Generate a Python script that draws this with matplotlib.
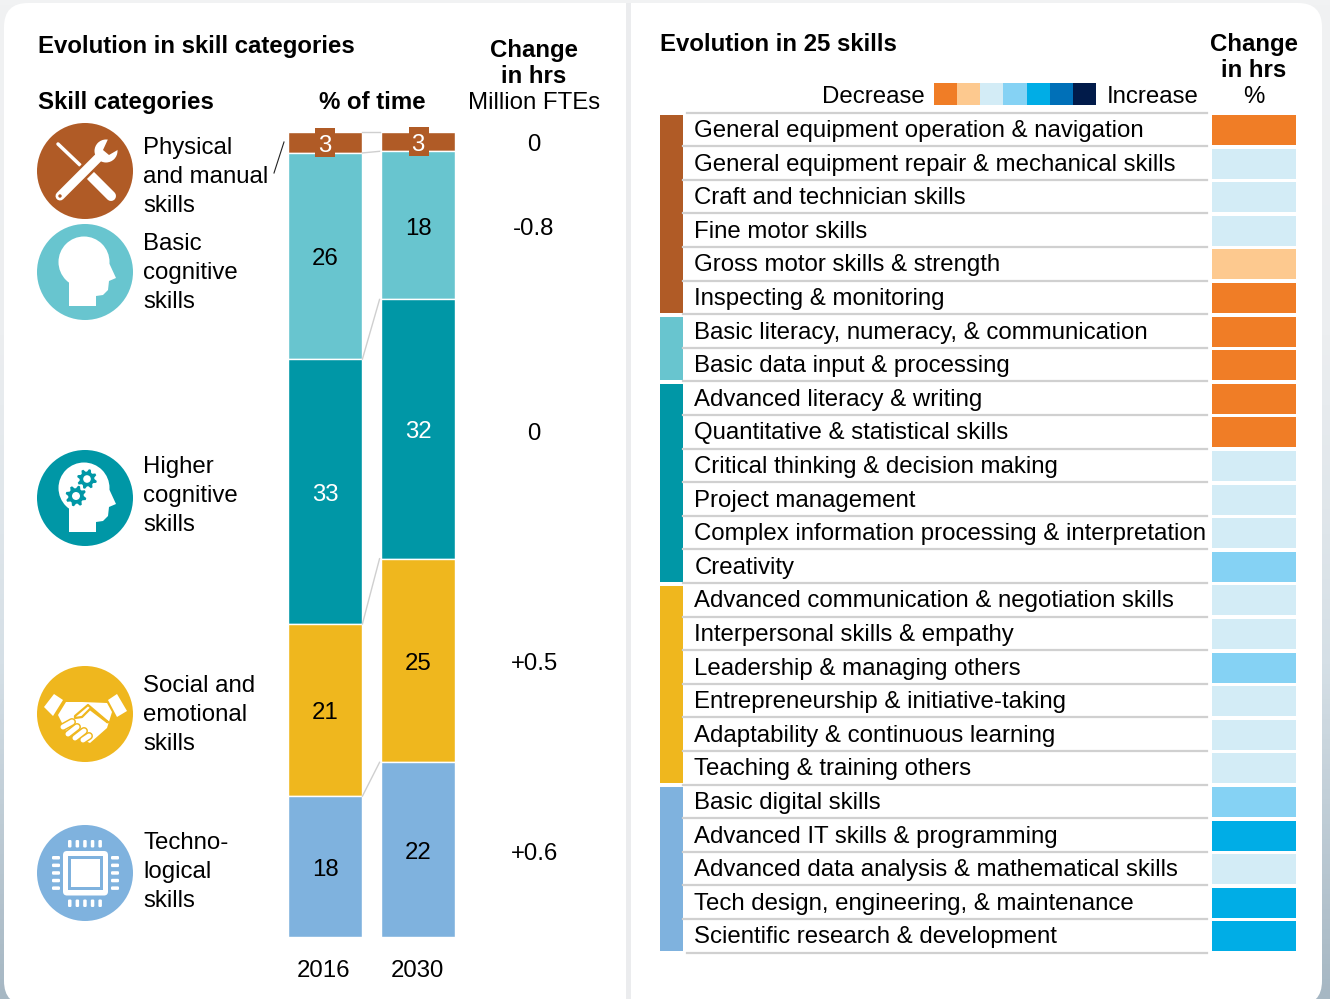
import matplotlib
matplotlib.use('Agg')
import matplotlib.pyplot as plt
import numpy as np
from matplotlib.colors import LinearSegmentedColormap
from matplotlib.patches import Circle, FancyBboxPatch, Polygon, Rectangle

plt.rcParams['font.family'] = ['Liberation Sans', 'DejaVu Sans']

W, H = 1330, 999

# left panel data
years = ['2016', '2030']
share_2016 = [2.6, 25.6, 32.9, 21.4, 17.5]
share_2030 = [2.4, 18.4, 32.2, 25.3, 21.7]
labels_2016 = ['3', '26', '33', '21', '18']
labels_2030 = ['3', '18', '32', '25', '22']
change_hours = ['0', '-0.8', '0', '+0.5', '+0.6']
categories = ['Physical\nand manual\nskills', 'Basic\ncognitive\nskills', 'Higher\ncognitive\nskills',
              'Social and\nemotional\nskills', 'Techno-\nlogical\nskills']
cat_colors = ['#b05b26', '#68c5cf', '#0097a6', '#efb71e', '#7fb2de']
label_colors = ['white', 'black', 'white', 'black', 'black']

# right panel data
skills = ['General equipment operation & navigation', 'General equipment repair & mechanical skills',
          'Craft and technician skills', 'Fine motor skills', 'Gross motor skills & strength',
          'Inspecting & monitoring', 'Basic literacy, numeracy, & communication',
          'Basic data input & processing', 'Advanced literacy & writing', 'Quantitative & statistical skills',
          'Critical thinking & decision making', 'Project management',
          'Complex information processing & interpretation', 'Creativity',
          'Advanced communication & negotiation skills', 'Interpersonal skills & empathy',
          'Leadership & managing others', 'Entrepreneurship & initiative-taking',
          'Adaptability & continuous learning', 'Teaching & training others', 'Basic digital skills',
          'Advanced IT skills & programming', 'Advanced data analysis & mathematical skills',
          'Tech design, engineering, & maintenance', 'Scientific research & development']
skill_levels = [0, 2, 2, 2, 1, 0, 0, 0, 0, 0, 2, 2, 2, 3, 2, 2, 3, 2, 2, 2, 3, 4, 2, 4, 4]
group_sizes = [6, 2, 6, 6, 5]
level_colors = ['#f07d26', '#fdc98f', '#d3ecf6', '#85d2f4', '#00ade6', '#0070b8', '#011b4a']

fig = plt.figure(figsize=(W / 100, H / 100), dpi=100)

# full figure axes in pixel units for background, icons and text
ax = fig.add_axes([0, 0, 1, 1])
grad = LinearSegmentedColormap.from_list('bg', ['#f1f2f3', '#eceef0', '#d5dfe6', '#a6b7c3'])
ax.imshow(np.linspace(0, 1, 200).reshape(-1, 1), cmap=grad, extent=(0, W, H, 0), aspect='auto', zorder=0)
ax.set_xlim(0, W)
ax.set_ylim(H, 0)
ax.axis('off')
ax.add_patch(FancyBboxPatch((4, 3), 1318, 1002, boxstyle='round,pad=0,rounding_size=24',
                            fc='white', ec='none', zorder=1))
ax.add_patch(Rectangle((626, 3), 5, 996, fc='#ebecee', ec='none', zorder=2))

FS = 17.3
BASE = 7.6  # baseline sits this many px under the line centre


def txt(x, y, s, ha='left', bold=False, color='black', size=FS):
    ax.text(x, y + BASE, s, ha=ha, va='baseline', color=color, fontsize=size,
            fontweight='bold' if bold else 'normal', zorder=5)


txt(38, 45.5, 'Evolution in skill categories', bold=True)
txt(38, 101, 'Skill categories', bold=True)
txt(372, 101, '% of time', ha='center', bold=True)
txt(534, 49, 'Change', ha='center', bold=True)
txt(534, 75, 'in hrs', ha='center', bold=True)
txt(534, 101, 'Million FTEs', ha='center')
txt(660, 43, 'Evolution in 25 skills', bold=True)
txt(1254, 43, 'Change', ha='center', bold=True)
txt(1254, 69, 'in hrs', ha='center', bold=True)
txt(1254, 95, '%', ha='center')
txt(925, 95, 'Decrease', ha='right')
txt(1107, 95, 'Increase')

# category labels and change values
label_y = [175, 271.5, 494, 713, 870]
change_y = [143, 227, 432, 662, 852]
for name, y in zip(categories, label_y):
    for k, line in enumerate(name.split('\n')):
        txt(143, y + (k - 1) * 29, line)
for val, y in zip(change_hours, change_y):
    txt(534, y, val, ha='center')
ax.plot([284, 274], [142, 173], color='#222222', lw=0.8, zorder=5)

# legend scale
for i, c in enumerate(level_colors):
    ax.add_patch(Rectangle((934 + i * 23.14, 83), 23.14, 22, fc=c, ec='none', zorder=3))


# icons
def capsule(p0, p1, width, color, z=4):
    ax.plot([p0[0], p1[0]], [p0[1], p1[1]], color=color, lw=width * 0.72, solid_capstyle='round', zorder=z)


def head(cy, color='white'):
    d = cy - 272
    ax.add_patch(Circle((84, 262 + d), 25.5, fc=color, ec='none', zorder=4))
    pts = [(69, 280), (69, 306), (96, 306), (96, 296), (103, 295), (108, 290), (109, 281), (116, 278),
           (110, 265), (100, 250), (70, 270)]
    ax.add_patch(Polygon([(x, y + d) for x, y in pts], closed=True, fc=color, ec='none', zorder=4))


def gear(cx, cy, r, color):
    ang = np.linspace(0, 2 * np.pi, 33)[:-1]
    rad = np.where((np.arange(32) % 4) < 2, r, r * 0.74)
    ax.add_patch(Polygon(np.c_[cx + rad * np.cos(ang + 0.2), cy + rad * np.sin(ang + 0.2)], closed=True,
                         fc=color, ec='none', zorder=5))
    ax.add_patch(Circle((cx, cy), r * 0.38, fc='white', ec='none', zorder=6))


for cy, c in zip([171, 272, 498, 714, 873], cat_colors):
    ax.add_patch(Circle((85, cy), 48, fc=c, ec='none', zorder=3))

# tools
capsule((58, 144), (80, 165), 3.5, 'white')
capsule((91, 176), (111, 196), 10, 'white')
capsule((60, 196), (103, 153), 14, cat_colors[0])
capsule((60, 196), (103, 153), 9, 'white')
ax.add_patch(Circle((106, 151), 11.5, fc='white', ec='none', zorder=4))
ax.add_patch(Polygon([(103, 150), (109, 137), (121, 148), (109, 155)], closed=True, fc=cat_colors[0], ec='none',
                     zorder=4))
ax.add_patch(Circle((60, 196), 1.7, fc=cat_colors[0], ec='none', zorder=5))

# heads
head(272)
head(498)
gear(87, 479, 10, cat_colors[2])
gear(76, 496, 10.5, cat_colors[2])

# handshake
yellow = cat_colors[3]
ax.add_patch(Polygon([(44, 707), (54, 694), (63, 700), (53, 716)], closed=True, fc='white', ec='none', zorder=4))
ax.add_patch(Polygon([(108, 700), (117, 694), (127, 711), (117, 717)], closed=True, fc='white', ec='none', zorder=4))
ax.add_patch(Polygon([(58, 715), (66, 702), (82, 702), (107, 703), (112, 712), (107, 728), (90, 743), (67, 733)],
                     closed=True, fc='white', ec='none', zorder=4))
ax.plot([108, 88, 75, 75, 82, 90, 107], [722, 705, 716, 718, 717, 709, 722], color=yellow, lw=1.6, zorder=5)
for f0, f1 in [((63, 727), (72, 722)), ((68, 734), (77, 727)), ((75, 738), (84, 731)), ((83, 740), (89, 736))]:
    capsule(f0, f1, 8, yellow, z=5)
    capsule(f0, f1, 5, 'white', z=6)

# chip
for k in range(5):
    off = 856 + k * 7.6
    xoff = 68 + k * 7.6
    ax.add_patch(FancyBboxPatch((xoff, 840), 3.5, 7.5, boxstyle='round,pad=0,rounding_size=1.2', fc='white',
                                ec='none', zorder=4))
    ax.add_patch(FancyBboxPatch((xoff, 899.5), 3.5, 7.5, boxstyle='round,pad=0,rounding_size=1.2', fc='white',
                                ec='none', zorder=4))
    ax.add_patch(FancyBboxPatch((52, off), 8, 3.5, boxstyle='round,pad=0,rounding_size=1.2', fc='white',
                                ec='none', zorder=4))
    ax.add_patch(FancyBboxPatch((111, off), 8, 3.5, boxstyle='round,pad=0,rounding_size=1.2', fc='white',
                                ec='none', zorder=4))
ax.add_patch(FancyBboxPatch((63, 851), 45, 44.5, boxstyle='round,pad=0,rounding_size=4', fc='white', ec='none',
                            zorder=4))
ax.add_patch(Rectangle((68, 856), 35, 34, fc=cat_colors[4], ec='none', zorder=5))
ax.add_patch(Rectangle((71, 859), 29, 28, fc='white', ec='none', zorder=6))

# stacked bars, y axis is share of time
ax_bars = fig.add_axes([287.5 / W, (H - 937) / H, 167 / W, 805 / H])
ax_bars.patch.set_alpha(0)
ax_bars.axis('off')
bar_w = 74 / 93
ax_bars.set_xlim(-bar_w / 2, 1 + bar_w / 2)
ax_bars.set_ylim(100, 0)
series = [share_2016, share_2030]
series_labels = [labels_2016, labels_2030]
tops = []
for i, (vals, labs) in enumerate(zip(series, series_labels)):
    bottom = 0
    edges = []
    for j, v in enumerate(vals):
        ax_bars.bar(i, v, bottom=bottom, width=bar_w, color=cat_colors[j], edgecolor='white', linewidth=1)
        if j == 0:
            # the small brown tab sticks out of the top segment
            ax_bars.add_patch(Rectangle((315 + i * 94, 127.5 - 0.5 * i), 20, 29, transform=ax.transData,
                                        fc=cat_colors[0], ec='none', zorder=5, clip_on=False))
        ax_bars.annotate(labs[j], (i + 0.005, bottom + v / 2), xytext=(0, -9.4 * 0.72), textcoords='offset points',
                         ha='center', va='baseline', color=label_colors[j], fontsize=FS, zorder=6)
        edges.append(bottom)
        bottom += v
    tops.append(edges)
for y0, y1 in zip(tops[0], tops[1]):
    ax_bars.plot([bar_w / 2 + 0.01, 1 - bar_w / 2 - 0.01], [y0, y1], color='#cfcfcf', lw=1, clip_on=False)
for i, y in enumerate(years):
    txt(324 + i * 93, 969, y, ha='center')

# skills table, x in pixels, y in rows
ax_rows = fig.add_axes([0, (H - 952.5) / H, 1, 840 / H])
ax_rows.patch.set_alpha(0)
ax_rows.axis('off')
ax_rows.set_xlim(0, W)
ax_rows.set_ylim(len(skills) - 0.5, -0.5)
rows = np.arange(len(skills))
ax_rows.barh(rows + 0.02, 84, left=1212, height=0.89, color=[level_colors[v] for v in skill_levels])
for r, s in zip(rows, skills):
    ax_rows.annotate(s, (694.5, r), xytext=(0, -7.7 * 0.72), textcoords='offset points', ha='left', va='baseline',
                     fontsize=FS)
    ax_rows.plot([683 if r else 687, 1207], [r - 0.5, r - 0.5], color='#d0d0d0', lw=1.6, clip_on=False)
ax_rows.plot([687, 1207], [len(skills) - 0.5] * 2, color='#d0d0d0', lw=1.6, clip_on=False)
start = 0
for size, c in zip(group_sizes, cat_colors):
    ax_rows.bar(671.5, size - 0.12, width=23, bottom=start - 0.42, color=c)
    start += size

fig.savefig('out.png', dpi=100)
